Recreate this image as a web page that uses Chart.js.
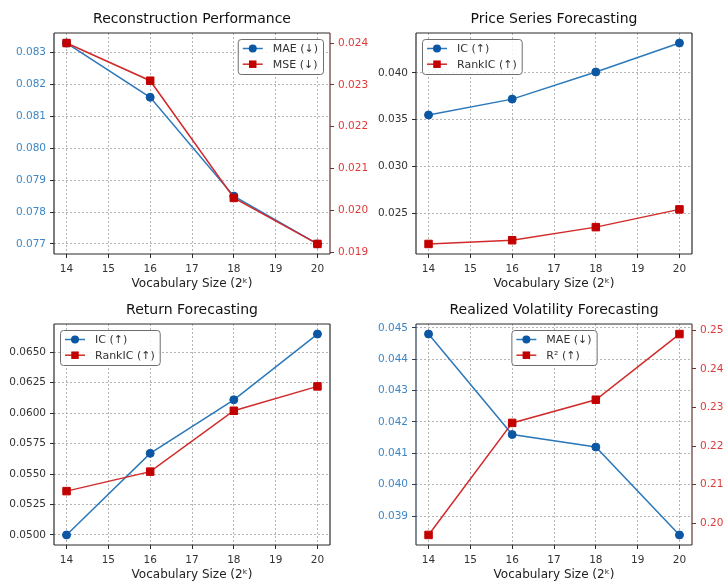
<!DOCTYPE html>
<html><head><meta charset="utf-8">
<script src="https://cdn.jsdelivr.net/npm/chart.js@4"></script>
<style>
html,body{margin:0;padding:0;background:#fff;}
#wrap{position:relative;width:725px;height:582px;background:#fff;}
canvas{position:absolute;left:0;top:0;}
</style></head><body>
<div id="wrap">
<canvas id="c1" width="725" height="582"></canvas>
<canvas id="c2" width="725" height="582"></canvas>
<canvas id="c3" width="725" height="582"></canvas>
<canvas id="c4" width="725" height="582"></canvas>
</div>
<script>
// ---------- data ----------
const vocabK = [14, 16, 18, 20];
const xTicks = [14, 15, 16, 17, 18, 19, 20];
const xAxisLabel = 'Vocabulary Size (2ᵏ)';

const reconMAE = [0.0833, 0.0816, 0.0785, 0.0770];
const reconMSE = [0.0240, 0.0231, 0.0203, 0.0192];
const reconMAETicks = [0.077, 0.078, 0.079, 0.080, 0.081, 0.082, 0.083];
const reconMSETicks = [0.019, 0.020, 0.021, 0.022, 0.023, 0.024];

const priceIC = [0.0355, 0.0372, 0.0401, 0.0432];
const priceRankIC = [0.0217, 0.0221, 0.0235, 0.0254];
const priceTicks = [0.025, 0.030, 0.035, 0.040];

const returnIC = [0.0500, 0.0567, 0.0611, 0.0665];
const returnRankIC = [0.0536, 0.0552, 0.0602, 0.0622];
const returnTicks = [0.0500, 0.0525, 0.0550, 0.0575, 0.0600, 0.0625, 0.0650];

const volMAE = [0.0448, 0.0416, 0.0412, 0.0384];
const volR2 = [0.197, 0.226, 0.232, 0.249];
const volMAETicks = [0.039, 0.040, 0.041, 0.042, 0.043, 0.044, 0.045];
const volR2Ticks = [0.20, 0.21, 0.22, 0.23, 0.24, 0.25];

// ---------- styles ----------
const FONT = "'DejaVu Sans', sans-serif";
Chart.defaults.font.family = FONT;
const BLUE_LINE = '#2b78bb', BLUE_MK = '#0b57a3';
const RED_LINE = '#d12a2a', RED_MK = '#c20000';
const BLUE_TXT = '#3e86c6', RED_TXT = '#de3a3a';
const GRID = '#b4b4b4';

function padRange(arrs) {
  const all = [].concat(...arrs);
  const lo = Math.min(...all), hi = Math.max(...all);
  const m = (hi - lo) * 0.05;
  return [lo - m, hi + m];
}
function pts(ys) { return vocabK.map((x, i) => ({x: x, y: ys[i]})); }

function series(label, ys, axis, kind) {
  const blue = kind === 'blue';
  return {
    label: label, data: pts(ys), yAxisID: axis,
    borderColor: blue ? BLUE_LINE : RED_LINE, borderWidth: 1.5,
    pointStyle: blue ? 'circle' : 'rect',
    pointRadius: blue ? 4 : 5.3, pointHoverRadius: blue ? 4 : 5.3,
    pointBackgroundColor: blue ? BLUE_MK : RED_MK,
    pointBorderColor: blue ? BLUE_MK : RED_MK, pointBorderWidth: 1,
    tension: 0, fill: false, order: blue ? 1 : 0
  };
}

const boxLegend = {
  id: 'boxLegend',
  afterDatasetsDraw(chart, args, opts) {
    const ctx = chart.ctx, a = chart.chartArea;
    ctx.save();
    ctx.font = '11px ' + FONT;
    const items = chart.data.datasets;
    const tw = Math.max(...items.map(d => ctx.measureText(d.label).width));
    const w = 5 + 20 + 10 + tw + 5, h = 35;
    let x;
    if (opts.loc === 'ul') x = a.left + 6;
    else if (opts.loc === 'ur') x = a.right - 7 - w;
    else x = (a.left + a.right) / 2 - w / 2;
    const y = a.top + 6;
    ctx.beginPath();
    ctx.roundRect(x + 0.5, y + 0.5, w, h, 3);
    ctx.fillStyle = 'rgba(255,255,255,0.85)';
    ctx.fill();
    ctx.strokeStyle = '#6e6e6e';
    ctx.lineWidth = 1;
    ctx.stroke();
    items.forEach((d, i) => {
      const cy = y + 9.5 + i * 15.7;
      ctx.beginPath();
      ctx.moveTo(x + 5, cy); ctx.lineTo(x + 25, cy);
      ctx.strokeStyle = d.borderColor; ctx.lineWidth = 1.5; ctx.stroke();
      ctx.fillStyle = d.pointBackgroundColor;
      if (d.pointStyle === 'circle') {
        ctx.beginPath(); ctx.arc(x + 15, cy, d.pointRadius, 0, Math.PI * 2); ctx.fill();
      } else {
        const s = d.pointRadius * Math.SQRT1_2;
        ctx.fillRect(x + 15 - s, cy - s, 2 * s, 2 * s);
      }
      ctx.fillStyle = '#333';
      ctx.textBaseline = 'middle';
      ctx.textAlign = 'left';
      ctx.fillText(d.label, x + 35, cy + 0.5);
    });
    ctx.restore();
  }
};

const frame = {
  id: 'frame',
  afterDatasetsDraw(chart, args, opts) {
    const ctx = chart.ctx, a = chart.chartArea;
    ctx.save();
    ctx.lineWidth = 1.2;
    const seg = (x1, y1, x2, y2, c) => { ctx.beginPath(); ctx.moveTo(x1, y1); ctx.lineTo(x2, y2); ctx.strokeStyle = c; ctx.stroke(); };
    seg(a.left, a.top, a.right, a.top, '#2a2a2a');
    seg(a.left, a.bottom, a.right, a.bottom, '#2a2a2a');
    seg(a.left, a.top, a.left, a.bottom, opts.leftColor || '#2a2a2a');
    seg(a.right, a.top, a.right, a.bottom, opts.rightColor || '#2a2a2a');
    ctx.restore();
  }
};

function yScale(pos, range, ticks, dec, color, width, onArea, tickColor) {
  return {
    type: 'linear', position: pos, min: range[0], max: range[1],
    afterBuildTicks: s => { s.ticks = ticks.map(v => ({value: v})); },
    afterFit: s => { s.width = width; },
    ticks: {color: color, font: {size: 10.5}, padding: 4, callback: v => Number(v).toFixed(dec)},
    grid: {display: true, drawOnChartArea: onArea, color: GRID, lineWidth: 1, borderDash: [2, 2],
           drawTicks: true, tickLength: 4, tickColor: tickColor, tickWidth: 1, tickBorderDash: []},
    border: {display: false, dash: [2, 2]}
  };
}
function xScale() {
  return {
    type: 'linear', position: 'bottom', min: 13.7, max: 20.3,
    afterBuildTicks: s => { s.ticks = xTicks.map(v => ({value: v})); },
    afterFit: s => { s.height = 37; },
    ticks: {color: '#333', font: {size: 10.5}, padding: 4.5, maxRotation: 0, autoSkip: false, callback: v => String(v)},
    grid: {display: true, color: GRID, lineWidth: 1, borderDash: [2, 2], drawTicks: true, tickLength: 4,
           tickColor: '#2a2a2a', tickWidth: 1, tickBorderDash: []},
    border: {display: false, dash: [2, 2]},
    title: {display: true, text: xAxisLabel, color: '#222', font: {size: 12}, padding: {top: 0, bottom: 0}}
  };
}

function makeChart(id, p) {
  const rightW = p.right ? p.rightW : 0;
  const padding = {
    left: p.L - 54,
    right: 725 - p.R - rightW,
    top: p.T - 33,
    bottom: 582 - p.B - 37
  };
  const scales = {x: xScale(), yL: p.left};
  if (p.right) scales.yR = p.right;
  new Chart(document.getElementById(id), {
    type: 'line',
    data: {datasets: p.datasets},
    options: {
      responsive: false, animation: false, devicePixelRatio: 1,
      layout: {padding: padding},
      scales: scales,
      plugins: {
        legend: {display: false},
        tooltip: {enabled: false},
        title: {display: true, text: p.title, fullSize: false, color: '#111',
                font: {size: 14, weight: 'normal'}, padding: {top: 11.1, bottom: 5.1}},
        boxLegend: {loc: p.loc},
        frame: {leftColor: p.leftSpine, rightColor: p.rightSpine}
      }
    },
    plugins: [boxLegend, frame]
  });
}

// Panel 1
makeChart('c1', {
  L: 54, T: 33, R: 330, B: 254, rightW: 40,
  title: 'Reconstruction Performance', loc: 'ur',
  datasets: [series('MAE (↓)', reconMAE, 'yL', 'blue'), series('MSE (↓)', reconMSE, 'yR', 'red')],
  left: yScale('left', padRange([reconMAE]), reconMAETicks, 3, BLUE_TXT, 54, true, '#2a2a2a'),
  right: yScale('right', padRange([reconMSE]), reconMSETicks, 3, RED_TXT, 40, false, '#6a3535'),
  leftSpine: '#22262c', rightSpine: '#643434'
});
// Panel 2
makeChart('c2', {
  L: 416, T: 33, R: 692, B: 254,
  title: 'Price Series Forecasting', loc: 'ul',
  datasets: [series('IC (↑)', priceIC, 'yL', 'blue'), series('RankIC (↑)', priceRankIC, 'yL', 'red')],
  left: yScale('left', padRange([priceIC, priceRankIC]), priceTicks, 3, '#333', 54, true, '#2a2a2a'),
  right: null
});
// Panel 3
makeChart('c3', {
  L: 54, T: 324, R: 330, B: 545,
  title: 'Return Forecasting', loc: 'ul',
  datasets: [series('IC (↑)', returnIC, 'yL', 'blue'), series('RankIC (↑)', returnRankIC, 'yL', 'red')],
  left: yScale('left', padRange([returnIC, returnRankIC]), returnTicks, 4, '#333', 54, true, '#2a2a2a'),
  right: null
});
// Panel 4
makeChart('c4', {
  L: 416, T: 324, R: 692, B: 545, rightW: 33,
  title: 'Realized Volatility Forecasting', loc: 'uc',
  datasets: [series('MAE (↓)', volMAE, 'yL', 'blue'), series('R² (↑)', volR2, 'yR', 'red')],
  left: yScale('left', padRange([volMAE]), volMAETicks, 3, BLUE_TXT, 54, true, '#2c3e58'),
  right: yScale('right', padRange([volR2]), volR2Ticks, 2, RED_TXT, 33, false, '#6a3535'),
  leftSpine: '#2c3e58', rightSpine: '#643434'
});
</script>
</body></html>
